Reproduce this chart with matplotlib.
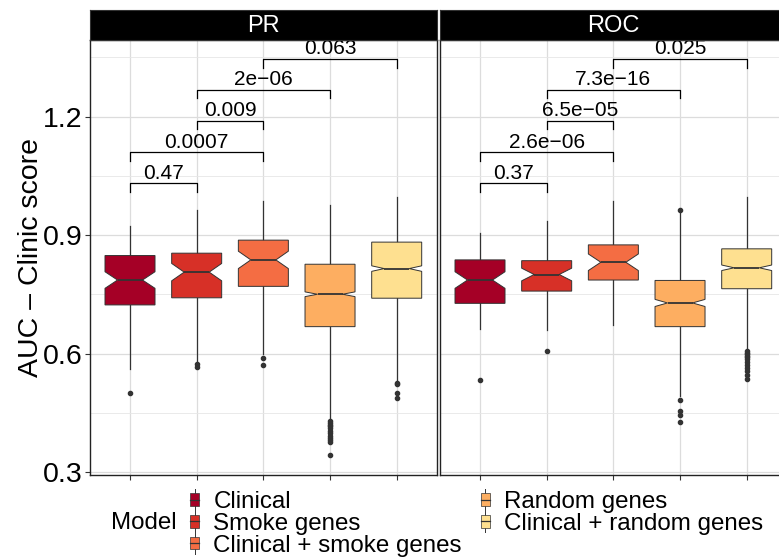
import matplotlib
matplotlib.use("Agg")
import matplotlib.pyplot as plt
from matplotlib.patches import Rectangle
from matplotlib.lines import Line2D
from matplotlib.legend_handler import HandlerBase

plt.rcParams['font.family'] = ['Liberation Sans', 'DejaVu Sans']

# categories and colours
models = ["Clinical", "Smoke genes", "Clinical + smoke genes",
          "Random genes", "Clinical + random genes"]
colors = ["#A50026", "#D73027", "#F46D43", "#FDAE61", "#FEE090"]

# box statistics (AUC - clinic score)
pr_whislo = [0.562, 0.580, 0.598, 0.432, 0.530]
pr_q1 = [0.723, 0.741, 0.770, 0.668, 0.740]
pr_med = [0.786, 0.806, 0.837, 0.750, 0.815]
pr_q3 = [0.848, 0.854, 0.887, 0.826, 0.882]
pr_whishi = [0.923, 0.963, 0.985, 0.977, 0.997]
pr_notch = [0.021, 0.022, 0.022, 0.006, 0.007]
pr_fliers = [
    [0.499],
    [0.574, 0.565],
    [0.589, 0.570],
    [0.428, 0.424, 0.420, 0.416, 0.412, 0.405, 0.398, 0.390, 0.385, 0.380, 0.375, 0.343],
    [0.526, 0.522, 0.500, 0.487],
]

roc_whislo = [0.663, 0.660, 0.672, 0.493, 0.612]
roc_q1 = [0.727, 0.758, 0.786, 0.668, 0.764]
roc_med = [0.786, 0.800, 0.831, 0.728, 0.817]
roc_q3 = [0.837, 0.835, 0.875, 0.785, 0.865]
roc_whishi = [0.906, 0.935, 0.985, 0.958, 0.996]
roc_notch = [0.021, 0.016, 0.021, 0.009, 0.007]
roc_fliers = [
    [0.533],
    [0.607],
    [],
    [0.964, 0.482, 0.455, 0.444, 0.426],
    [0.606, 0.602, 0.598, 0.594, 0.590, 0.585, 0.578, 0.570, 0.563, 0.555, 0.545, 0.535],
]

# pairwise comparisons (1-based group index), bracket heights and p-values
comp_pairs = [(1, 2), (1, 3), (2, 3), (2, 4), (3, 5)]
comp_heights = [1.031, 1.109, 1.189, 1.267, 1.345]
pr_pvals = ["0.47", "0.0007", "0.009", "2e\u221206", "0.063"]
roc_pvals = ["0.37", "2.6e\u221206", "6.5e\u221205", "7.3e\u221216", "0.025"]

panels = [
    ("PR", pr_whislo, pr_q1, pr_med, pr_q3, pr_whishi, pr_notch, pr_fliers, pr_pvals),
    ("ROC", roc_whislo, roc_q1, roc_med, roc_q3, roc_whishi, roc_notch, roc_fliers, roc_pvals),
]

W, H = 779, 558
fig = plt.figure(figsize=(W / 100, H / 100), dpi=100)

panel_left = [90, 440]
panel_w = 346.7
top_px, bot_px = 40, 475

ylo, yhi = 0.2924, 1.3937
dark = "#333333"

for i, (name, wlo, q1, med, q3, whi, notch, fl, pv) in enumerate(panels):
    ax = fig.add_axes([panel_left[i] / W, 1 - bot_px / H, panel_w / W, (bot_px - top_px) / H])
    stats = []
    for k in range(len(models)):
        stats.append(dict(whislo=wlo[k], q1=q1[k], med=med[k], q3=q3[k], whishi=whi[k],
                          cilo=med[k] - notch[k], cihi=med[k] + notch[k], fliers=fl[k]))
    pos = list(range(1, len(models) + 1))
    bp = ax.bxp(stats, positions=pos, widths=0.75, shownotches=True, showcaps=False,
                patch_artist=True,
                boxprops=dict(edgecolor=dark, linewidth=0.7),
                whiskerprops=dict(color=dark, linewidth=0.9),
                medianprops=dict(color=dark, linewidth=1.3),
                flierprops=dict(marker="o", markersize=3.0, markerfacecolor=dark,
                                markeredgecolor=dark, linestyle="none"))
    for patch, c in zip(bp["boxes"], colors):
        patch.set_facecolor(c)
        patch.set_zorder(3)
    for ln in bp["medians"]:
        ln.set_zorder(4)

    # significance brackets
    tip = 0.021
    for (a, b), h, lab in zip(comp_pairs, comp_heights, pv):
        ax.plot([a, a, b, b], [h - tip, h, h, h - tip], color="black", linewidth=0.9, zorder=5)
        ax.text((a + b) / 2, h + 0.012, lab, ha="center", va="baseline", fontsize=15, zorder=6)

    ax.set_xlim(0.4, 5.6)
    ax.set_ylim(ylo, yhi)
    ax.set_xticks(pos)
    ax.set_xticklabels([])
    ax.set_yticks([0.3, 0.6, 0.9, 1.2])
    ax.set_yticks([0.45, 0.75, 1.05, 1.35], minor=True)
    ax.grid(True, which="major", color="#DCDCDC", linewidth=0.9, zorder=0)
    ax.grid(True, which="minor", axis="y", color="#E6E6E6", linewidth=0.6, zorder=0)
    ax.set_axisbelow(True)
    ax.tick_params(axis="both", which="major", length=3.5, width=0.8, color=dark,
                   labelsize=20.5, labelcolor="black", pad=2)
    ax.tick_params(axis="y", which="minor", length=0)
    if i == 0:
        ax.set_ylabel("AUC \u2013 Clinic score", fontsize=20.5, labelpad=-1)
    else:
        ax.set_yticklabels([])
        ax.tick_params(axis="y", which="major", length=0)
    for sp in ax.spines.values():
        sp.set_color("#222222")
        sp.set_linewidth(1.0)

    # facet strip
    sax = fig.add_axes([panel_left[i] / W, 1 - top_px / H, panel_w / W, 30 / H])
    sax.set_facecolor("black")
    sax.set_xticks([])
    sax.set_yticks([])
    for sp in sax.spines.values():
        sp.set_color("#333333")
        sp.set_linewidth(0.8)
    sax.text(0.5, 0.45, name, color="white", fontsize=17, ha="center", va="center",
             transform=sax.transAxes)


class BoxKey(HandlerBase):
    def create_artists(self, legend, orig_handle, xdescent, ydescent, width, height,
                       fontsize, trans):
        cx = width / 2 - xdescent
        cy = height / 2 - ydescent
        bw, bh, full = 6.0, 9.0, 15.0
        arts = [
            Line2D([cx, cx], [cy - full / 2, cy + full / 2], color="#333333", linewidth=0.7,
                   transform=trans),
            Rectangle((cx - bw / 2, cy - bh / 2), bw, bh, facecolor=orig_handle.get_facecolor(),
                      edgecolor="#333333", linewidth=0.5, transform=trans),
            Line2D([cx - bw / 2, cx + bw / 2], [cy, cy], color="#333333", linewidth=0.9,
                   transform=trans),
        ]
        return arts


handles = [Rectangle((0, 0), 1, 1, facecolor=c) for c in colors]
leg = fig.legend(handles, models, handler_map={Rectangle: BoxKey()}, ncol=2,
                 loc="upper left", bbox_to_anchor=(188 / W, 1 - 490 / H), frameon=False,
                 fontsize=17.4, handlelength=0.55, handleheight=0.85, handletextpad=0.5,
                 labelspacing=-0.05, columnspacing=0.7, borderaxespad=0, borderpad=0)
fig.text(144 / W, 1 - 523 / H, "Model", fontsize=17.4, ha="center", va="center")

fig.savefig("out.png", dpi=100)
